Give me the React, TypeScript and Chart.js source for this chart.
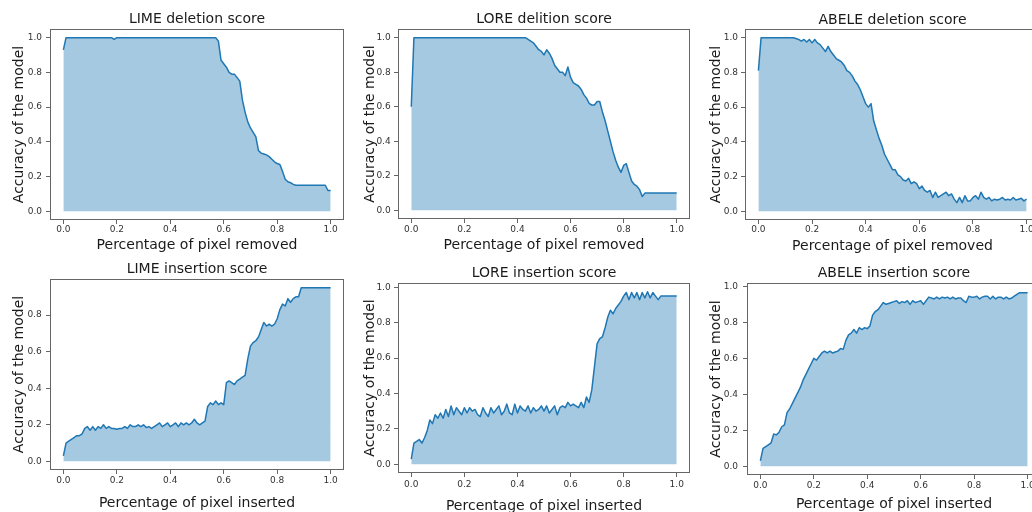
import React, { useEffect, useRef } from "react";
import { Chart, registerables } from "chart.js";

Chart.register(...registerables);

// ---------- data ----------
const PCT = [
  0, 0.01, 0.02, 0.03, 0.04, 0.05, 0.06, 0.07, 0.08, 0.09,
  0.1, 0.11, 0.12, 0.13, 0.14, 0.15, 0.16, 0.17, 0.18, 0.19,
  0.2, 0.21, 0.22, 0.23, 0.24, 0.25, 0.26, 0.27, 0.28, 0.29,
  0.3, 0.31, 0.32, 0.33, 0.34, 0.35, 0.36, 0.37, 0.38, 0.39,
  0.4, 0.41, 0.42, 0.43, 0.44, 0.45, 0.46, 0.47, 0.48, 0.49,
  0.5, 0.51, 0.52, 0.53, 0.54, 0.55, 0.56, 0.57, 0.58, 0.59,
  0.6, 0.61, 0.62, 0.63, 0.64, 0.65, 0.66, 0.67, 0.68, 0.69,
  0.7, 0.71, 0.72, 0.73, 0.74, 0.75, 0.76, 0.77, 0.78, 0.79,
  0.8, 0.81, 0.82, 0.83, 0.84, 0.85, 0.86, 0.87, 0.88, 0.89,
  0.9, 0.91, 0.92, 0.93, 0.94, 0.95, 0.96, 0.97, 0.98, 0.99,
  1.0,
];

const LIME_DELETION = [
  0.93, 1, 1, 1, 1, 1, 1, 1, 1, 1,
  1, 1, 1, 1, 1, 1, 1, 1, 1, 0.99,
  1, 1, 1, 1, 1, 1, 1, 1, 1, 1,
  1, 1, 1, 1, 1, 1, 1, 1, 1, 1,
  1, 1, 1, 1, 1, 1, 1, 1, 1, 1,
  1, 1, 1, 1, 1, 1, 1, 1, 0.98, 0.87,
  0.85, 0.83, 0.80, 0.79, 0.79, 0.77, 0.75, 0.64, 0.57, 0.515,
  0.48, 0.455, 0.43, 0.35, 0.335, 0.33, 0.325, 0.315, 0.30, 0.285,
  0.275, 0.27, 0.23, 0.185, 0.17, 0.165, 0.155, 0.15, 0.15, 0.15,
  0.15, 0.15, 0.15, 0.15, 0.15, 0.15, 0.15, 0.15, 0.15, 0.12,
  0.12,
];

const LORE_DELETION = [
  0.60, 1, 1, 1, 1, 1, 1, 1, 1, 1,
  1, 1, 1, 1, 1, 1, 1, 1, 1, 1,
  1, 1, 1, 1, 1, 1, 1, 1, 1, 1,
  1, 1, 1, 1, 1, 1, 1, 1, 1, 1,
  1, 1, 1, 1, 0.99, 0.98, 0.97, 0.95, 0.93, 0.92,
  0.90, 0.93, 0.91, 0.88, 0.84, 0.82, 0.80, 0.80, 0.78, 0.83,
  0.77, 0.74, 0.73, 0.72, 0.70, 0.67, 0.65, 0.62, 0.61, 0.61,
  0.63, 0.63, 0.57, 0.52, 0.46, 0.40, 0.34, 0.29, 0.25, 0.22,
  0.26, 0.27, 0.22, 0.17, 0.15, 0.14, 0.12, 0.08, 0.10, 0.10,
  0.10, 0.10, 0.10, 0.10, 0.10, 0.10, 0.10, 0.10, 0.10, 0.10,
  0.10,
];

const ABELE_DELETION = [
  0.81, 1, 1, 1, 1, 1, 1, 1, 1, 1,
  1, 1, 1, 1, 0.995, 0.99, 0.98, 0.99, 0.975, 0.99,
  0.97, 0.99, 0.97, 0.96, 0.94, 0.92, 0.95, 0.92, 0.90, 0.88,
  0.87, 0.86, 0.84, 0.81, 0.80, 0.78, 0.75, 0.73, 0.70, 0.66,
  0.62, 0.60, 0.62, 0.52, 0.47, 0.42, 0.38, 0.33, 0.30, 0.27,
  0.24, 0.24, 0.21, 0.20, 0.18, 0.175, 0.19, 0.16, 0.17, 0.16,
  0.13, 0.145, 0.12, 0.11, 0.12, 0.08, 0.11, 0.08, 0.09, 0.10,
  0.11, 0.09, 0.10, 0.07, 0.05, 0.08, 0.05, 0.09, 0.06, 0.06,
  0.08, 0.09, 0.07, 0.11, 0.08, 0.07, 0.08, 0.06, 0.07, 0.065,
  0.07, 0.08, 0.065, 0.07, 0.065, 0.08, 0.065, 0.07, 0.075, 0.06,
  0.07,
];

const LIME_INSERTION = [
  0.03, 0.10, 0.11, 0.12, 0.13, 0.14, 0.14, 0.15, 0.18, 0.19,
  0.17, 0.19, 0.17, 0.19, 0.18, 0.20, 0.18, 0.19, 0.18, 0.18,
  0.175, 0.18, 0.18, 0.19, 0.18, 0.20, 0.19, 0.19, 0.20, 0.19,
  0.20, 0.185, 0.19, 0.18, 0.19, 0.20, 0.21, 0.19, 0.20, 0.21,
  0.19, 0.20, 0.21, 0.19, 0.21, 0.20, 0.21, 0.20, 0.21, 0.23,
  0.21, 0.20, 0.21, 0.22, 0.30, 0.32, 0.31, 0.33, 0.31, 0.32,
  0.31, 0.43, 0.44, 0.43, 0.42, 0.44, 0.45, 0.46, 0.47, 0.56,
  0.63, 0.65, 0.66, 0.68, 0.72, 0.76, 0.74, 0.75, 0.74, 0.75,
  0.78, 0.83, 0.86, 0.85, 0.89, 0.87, 0.89, 0.90, 0.90, 0.95,
  0.95, 0.95, 0.95, 0.95, 0.95, 0.95, 0.95, 0.95, 0.95, 0.95,
  0.95,
];

const LORE_INSERTION = [
  0.03, 0.12, 0.13, 0.14, 0.12, 0.15, 0.19, 0.25, 0.23, 0.28,
  0.26, 0.29, 0.26, 0.31, 0.27, 0.33, 0.28, 0.32, 0.30, 0.28,
  0.32, 0.29, 0.32, 0.30, 0.31, 0.28, 0.27, 0.32, 0.29, 0.27,
  0.32, 0.29, 0.31, 0.33, 0.28, 0.30, 0.34, 0.29, 0.28, 0.34,
  0.29, 0.33, 0.31, 0.30, 0.33, 0.29, 0.32, 0.30, 0.31, 0.33,
  0.30, 0.33, 0.29, 0.31, 0.33, 0.28, 0.32, 0.33, 0.32, 0.35,
  0.33, 0.34, 0.33, 0.32, 0.35, 0.32, 0.38, 0.35, 0.42, 0.55,
  0.68, 0.71, 0.72, 0.77, 0.83, 0.87, 0.85, 0.88, 0.90, 0.92,
  0.95, 0.97, 0.93, 0.97, 0.94, 0.97, 0.93, 0.97, 0.94, 0.975,
  0.94, 0.97, 0.95, 0.93, 0.95, 0.95, 0.95, 0.95, 0.95, 0.95,
  0.95,
];

const ABELE_INSERTION = [
  0.03, 0.10, 0.11, 0.12, 0.13, 0.18, 0.175, 0.19, 0.22, 0.23,
  0.30, 0.32, 0.35, 0.38, 0.41, 0.44, 0.48, 0.51, 0.54, 0.57,
  0.60, 0.59, 0.61, 0.63, 0.64, 0.63, 0.64, 0.63, 0.635, 0.64,
  0.655, 0.65, 0.70, 0.73, 0.74, 0.76, 0.74, 0.77, 0.76, 0.77,
  0.765, 0.78, 0.84, 0.86, 0.87, 0.89, 0.91, 0.90, 0.905, 0.91,
  0.915, 0.92, 0.905, 0.915, 0.91, 0.92, 0.90, 0.92, 0.91, 0.915,
  0.92, 0.90, 0.92, 0.94, 0.935, 0.93, 0.94, 0.93, 0.94, 0.935,
  0.94, 0.93, 0.94, 0.93, 0.935, 0.935, 0.92, 0.91, 0.945, 0.94,
  0.94, 0.945, 0.93, 0.94, 0.945, 0.945, 0.93, 0.945, 0.93, 0.94,
  0.94, 0.93, 0.94, 0.93, 0.935, 0.945, 0.955, 0.965, 0.965, 0.965,
  0.965,
];

const TITLES = [
  "LIME deletion score",
  "LORE delition score",
  "ABELE deletion score",
  "LIME insertion score",
  "LORE insertion score",
  "ABELE insertion score",
];
const X_LABELS = [
  "Percentage of pixel removed",
  "Percentage of pixel removed",
  "Percentage of pixel removed",
  "Percentage of pixel inserted",
  "Percentage of pixel inserted",
  "Percentage of pixel inserted",
];
const Y_LABEL = "Accuracy of the model";

const X_TICKS = [0, 0.2, 0.4, 0.6, 0.8, 1.0];
const Y_TICKS_FULL = [0, 0.2, 0.4, 0.6, 0.8, 1.0];
const Y_TICKS_SHORT = [0, 0.2, 0.4, 0.6, 0.8];
const X_LIMITS = [-0.05, 1.05];
const Y_LIMITS_DELETION = [-0.05, 1.05];
const Y_LIMITS_LIME_INS = [-0.0475, 0.9975];
const Y_LIMITS_LORE_INS = [-0.049, 1.024];
const Y_LIMITS_ABELE_INS = [-0.048, 1.0185];

// ---------- styles / layout ----------
const FONT = "'DejaVu Sans', 'Liberation Sans', sans-serif";
const LINE_COLOR = "#1f77b4";
const FILL_COLOR = "rgba(31,119,180,0.4)";
const TEXT_COLOR = "#1a1a1a";
const TICK_TEXT_COLOR = "#333333";
const FRAME_COLOR = "#666666";
const TITLE_SIZE = 14;
const LABEL_SIZE = 14;
const TICK_SIZE = 9;
const LH = 1.2;
const TICK_LEN = 4;

type Panel = {
  title: string;
  xLabel: string;
  values: number[];
  yTicks: number[];
  yLim: number[];
  box: { left: number; top: number; width: number; height: number };
  frame: { l: number; t: number; b: number };
  text: { titleY: number; yLabelX: number; yTickRight: number; xTickY: number; xLabelY: number };
};

const PANELS: Panel[] = [
  {
    title: TITLES[0], xLabel: X_LABELS[0], values: LIME_DELETION, yTicks: Y_TICKS_FULL, yLim: Y_LIMITS_DELETION,
    box: { left: 0, top: 0, width: 344, height: 256 }, frame: { l: 50, t: 29, b: 220 },
    text: { titleY: 19.3, yLabelX: 19.5, yTickRight: 42, xTickY: 230, xLabelY: 245 },
  },
  {
    title: TITLES[1], xLabel: X_LABELS[1], values: LORE_DELETION, yTicks: Y_TICKS_FULL, yLim: Y_LIMITS_DELETION,
    box: { left: 346, top: 0, width: 344, height: 256 }, frame: { l: 398, t: 29, b: 219 },
    text: { titleY: 19.3, yLabelX: 370, yTickRight: 390.7, xTickY: 230, xLabelY: 245 },
  },
  {
    title: TITLES[2], xLabel: X_LABELS[2], values: ABELE_DELETION, yTicks: Y_TICKS_FULL, yLim: Y_LIMITS_DELETION,
    box: { left: 692, top: 0, width: 348, height: 256 }, frame: { l: 745, t: 29, b: 220 },
    text: { titleY: 20, yLabelX: 716.3, yTickRight: 738, xTickY: 230, xLabelY: 246 },
  },
  {
    title: TITLES[3], xLabel: X_LABELS[3], values: LIME_INSERTION, yTicks: Y_TICKS_SHORT, yLim: Y_LIMITS_LIME_INS,
    box: { left: 0, top: 256, width: 344, height: 256 }, frame: { l: 50, t: 279, b: 470 },
    text: { titleY: 269.5, yLabelX: 19.5, yTickRight: 41.7, xTickY: 480.3, xLabelY: 503.5 },
  },
  {
    title: TITLES[4], xLabel: X_LABELS[4], values: LORE_INSERTION, yTicks: Y_TICKS_FULL, yLim: Y_LIMITS_LORE_INS,
    box: { left: 346, top: 256, width: 344, height: 264 }, frame: { l: 398, t: 283, b: 473 },
    text: { titleY: 273.3, yLabelX: 370, yTickRight: 390.7, xTickY: 484.7, xLabelY: 506.3 },
  },
  {
    title: TITLES[5], xLabel: X_LABELS[5], values: ABELE_INSERTION, yTicks: Y_TICKS_FULL, yLim: Y_LIMITS_ABELE_INS,
    box: { left: 692, top: 256, width: 349, height: 258 }, frame: { l: 747, t: 283, b: 475 },
    text: { titleY: 273.3, yLabelX: 716.3, yTickRight: 738, xTickY: 486, xLabelY: 504 },
  },
];

const framePlugin = {
  id: "axesFrame",
  afterDatasetsDraw(chart: any) {
    const { ctx, chartArea } = chart;
    const l = Math.floor(chartArea.left) + 0.5;
    const t = Math.floor(chartArea.top) + 0.5;
    const r = Math.ceil(chartArea.right) - 0.5;
    const b = Math.ceil(chartArea.bottom) - 0.5;
    ctx.save();
    ctx.strokeStyle = FRAME_COLOR;
    ctx.lineWidth = 1;
    ctx.strokeRect(l, t, r - l, b - t);
    ctx.restore();
  },
};

function ChartPanel({ p }: { p: Panel }) {
  const ref = useRef<HTMLCanvasElement | null>(null);

  useEffect(() => {
    const canvas = ref.current;
    if (!canvas) return;
    const { box, frame, text } = p;
    const titleLH = TITLE_SIZE * LH;
    const labelLH = LABEL_SIZE * LH;
    const tickLH = TICK_SIZE * LH;
    const yW = frame.l - box.left;
    const titleH = frame.t - box.top;
    const xH = box.top + box.height - frame.b;
    const titlePadTop = text.titleY - box.top - titleLH / 2;
    const titlePadBottom = Math.max(0, titleH - titleLH - titlePadTop);
    const yTitlePad = text.yLabelX - box.left - labelLH / 2;
    const yTickPad = frame.l - TICK_LEN - text.yTickRight;
    const xTickPad = Math.max(0, text.xTickY - frame.b - TICK_LEN - tickLH / 2);
    const xTitlePad = Math.max(0, box.top + box.height - text.xLabelY - labelLH / 2);

    const points = PCT.map((x, i) => ({ x, y: p.values[i] }));

    const tickFont = { family: FONT, size: TICK_SIZE, lineHeight: LH };
    const grid = {
      display: true,
      drawOnChartArea: false,
      drawTicks: true,
      tickLength: TICK_LEN,
      color: FRAME_COLOR,
      tickColor: FRAME_COLOR,
      lineWidth: 1,
    };

    const chart = new Chart(canvas, {
      type: "line",
      data: {
        datasets: [
          {
            data: points,
            borderColor: LINE_COLOR,
            borderWidth: 1.5,
            borderJoinStyle: "round",
            backgroundColor: FILL_COLOR,
            fill: "origin",
            pointRadius: 0,
            pointHoverRadius: 0,
            tension: 0,
          },
        ],
      },
      options: {
        responsive: false,
        animation: false,
        devicePixelRatio: 1,
        events: [],
        layout: { padding: 0, autoPadding: false },
        plugins: {
          legend: { display: false },
          tooltip: { enabled: false },
          title: {
            display: true,
            fullSize: false,
            text: p.title,
            color: TEXT_COLOR,
            font: { family: FONT, size: TITLE_SIZE, weight: "normal", lineHeight: LH },
            padding: { top: titlePadTop, bottom: titlePadBottom },
          },
        },
        scales: {
          x: {
            type: "linear",
            min: X_LIMITS[0],
            max: X_LIMITS[1],
            afterBuildTicks: (axis: any) => {
              axis.ticks = X_TICKS.map((v) => ({ value: v }));
            },
            afterFit: (axis: any) => {
              axis.height = xH;
            },
            ticks: {
              autoSkip: false,
              maxRotation: 0,
              color: TICK_TEXT_COLOR,
              font: tickFont,
              padding: xTickPad,
              callback: (v: any) => Number(v).toFixed(1),
            },
            grid,
            border: { display: false },
            title: {
              display: true,
              text: p.xLabel,
              color: TEXT_COLOR,
              font: { family: FONT, size: LABEL_SIZE, lineHeight: LH },
              padding: { top: 0, bottom: xTitlePad },
            },
          },
          y: {
            type: "linear",
            min: p.yLim[0],
            max: p.yLim[1],
            afterBuildTicks: (axis: any) => {
              axis.ticks = p.yTicks.map((v) => ({ value: v }));
            },
            afterFit: (axis: any) => {
              axis.width = yW;
            },
            ticks: {
              autoSkip: false,
              color: TICK_TEXT_COLOR,
              font: tickFont,
              padding: yTickPad,
              callback: (v: any) => Number(v).toFixed(1),
            },
            grid,
            border: { display: false },
            title: {
              display: true,
              text: Y_LABEL,
              color: TEXT_COLOR,
              font: { family: FONT, size: LABEL_SIZE, lineHeight: LH },
              padding: { top: yTitlePad, bottom: 0 },
            },
          },
        },
      } as any,
      plugins: [framePlugin],
    });
    return () => chart.destroy();
  }, [p]);

  return (
    <canvas
      ref={ref}
      width={p.box.width}
      height={p.box.height}
      style={{
        position: "absolute",
        left: p.box.left,
        top: p.box.top,
        width: p.box.width,
        height: p.box.height,
      }}
    />
  );
}

export default function App() {
  return (
    <div
      style={{
        position: "absolute",
        left: 0,
        top: 0,
        width: 1032,
        height: 512,
        overflow: "hidden",
        background: "#ffffff",
      }}
    >
      {PANELS.map((p, i) => (
        <ChartPanel key={i} p={p} />
      ))}
    </div>
  );
}
